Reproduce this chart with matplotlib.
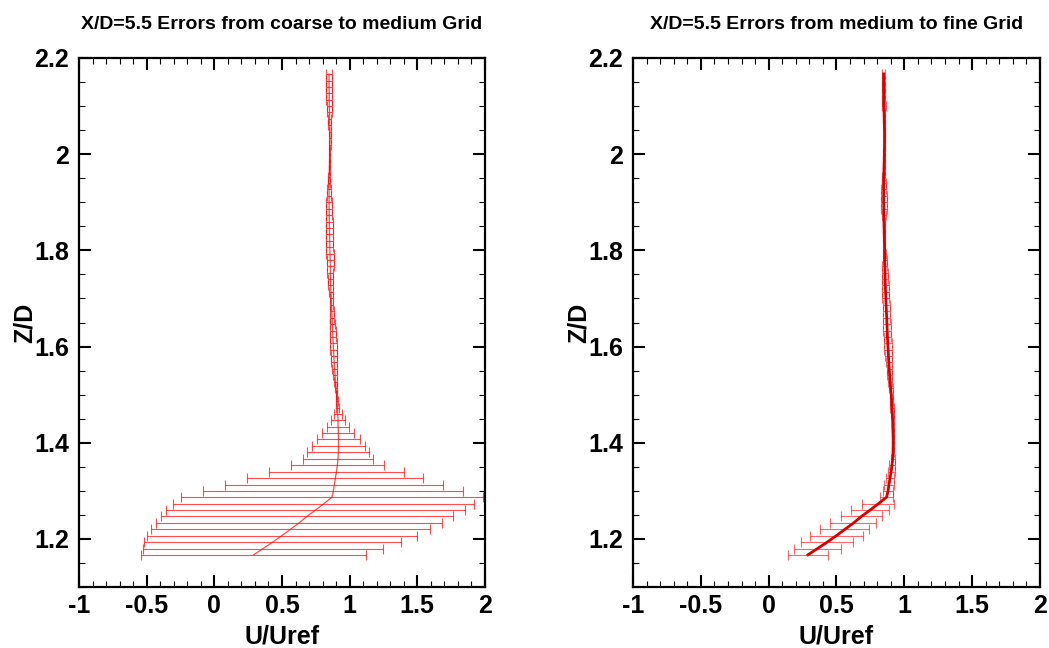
import matplotlib
matplotlib.use("Agg")
import matplotlib.pyplot as plt
from matplotlib.ticker import MultipleLocator

plt.rcParams["font.family"] = ["Liberation Sans", "DejaVu Sans"]
plt.rcParams["font.weight"] = "bold"

# Z/D stations of the profile
z = [1.167, 1.180, 1.193, 1.207, 1.220, 1.233, 1.247, 1.260, 1.273, 1.287,
     1.300, 1.313, 1.327, 1.340, 1.353, 1.367, 1.380, 1.393, 1.407, 1.420,
     1.433, 1.447, 1.460, 1.473, 1.487, 1.500, 1.513, 1.527, 1.540, 1.553,
     1.567, 1.580, 1.593, 1.607, 1.620, 1.633, 1.647, 1.660, 1.673, 1.687,
     1.700, 1.713, 1.727, 1.740, 1.753, 1.767, 1.780, 1.793, 1.807, 1.820,
     1.833, 1.847, 1.860, 1.873, 1.887, 1.900, 1.913, 1.927, 1.940, 1.953,
     1.967, 1.980, 1.993, 2.007, 2.020, 2.033, 2.047, 2.060, 2.073, 2.087,
     2.100, 2.113, 2.127, 2.140, 2.153, 2.167]

# U/Uref profile
u = [0.290, 0.360, 0.430, 0.500, 0.562, 0.625, 0.685, 0.748, 0.808, 0.870,
     0.880, 0.887, 0.895, 0.903, 0.909, 0.914, 0.917, 0.918, 0.918, 0.917,
     0.915, 0.914, 0.912, 0.910, 0.907, 0.904, 0.900, 0.896, 0.892, 0.889,
     0.886, 0.883, 0.881, 0.878, 0.876, 0.874, 0.872, 0.870, 0.868, 0.866,
     0.864, 0.862, 0.860, 0.859, 0.858, 0.857, 0.856, 0.855, 0.854, 0.853,
     0.852, 0.851, 0.850, 0.849, 0.849, 0.848, 0.848, 0.848, 0.848, 0.849,
     0.850, 0.851, 0.852, 0.853, 0.854, 0.854, 0.854, 0.853, 0.852, 0.851,
     0.850, 0.849, 0.849, 0.848, 0.848, 0.848]

# error half-widths, coarse -> medium
err_cm = [0.833, 0.889, 0.946, 1.000, 1.030, 1.057, 1.079, 1.106, 1.111, 1.114,
          0.961, 0.806, 0.650, 0.497, 0.345, 0.261, 0.229, 0.195, 0.158, 0.118,
          0.080, 0.050, 0.030, 0.012, 0.008, 0.006, 0.008, 0.012, 0.016, 0.020,
          0.022, 0.024, 0.025, 0.025, 0.024, 0.022, 0.020, 0.017, 0.014, 0.012,
          0.012, 0.014, 0.017, 0.020, 0.022, 0.024, 0.025, 0.026, 0.026, 0.026,
          0.026, 0.025, 0.025, 0.024, 0.022, 0.020, 0.017, 0.013, 0.009, 0.006,
          0.004, 0.003, 0.003, 0.004, 0.005, 0.006, 0.008, 0.010, 0.013, 0.016,
          0.019, 0.021, 0.022, 0.023, 0.024, 0.024]

# error half-widths, medium -> fine
err_mf = [0.148, 0.170, 0.190, 0.194, 0.180, 0.170, 0.152, 0.138, 0.118, 0.050,
          0.040, 0.035, 0.030, 0.025, 0.020, 0.015, 0.010, 0.008, 0.008, 0.008,
          0.008, 0.008, 0.010, 0.012, 0.012, 0.013, 0.014, 0.016, 0.018, 0.020,
          0.024, 0.026, 0.028, 0.028, 0.028, 0.028, 0.028, 0.028, 0.027, 0.026,
          0.026, 0.025, 0.024, 0.022, 0.020, 0.018, 0.015, 0.010, 0.006, 0.005,
          0.005, 0.006, 0.010, 0.016, 0.020, 0.022, 0.022, 0.020, 0.016, 0.010,
          0.005, 0.004, 0.003, 0.003, 0.003, 0.003, 0.004, 0.006, 0.008, 0.010,
          0.012, 0.012, 0.012, 0.012, 0.012, 0.012]

titles = ["X/D=5.5 Errors from coarse to medium Grid",
          "X/D=5.5 Errors from medium to fine Grid"]

fig = plt.figure(figsize=(10.49, 6.48), dpi=100)
ax1 = fig.add_axes([0.0753, 0.0941, 0.3870, 0.8164])
ax2 = fig.add_axes([0.6034, 0.0941, 0.3880, 0.8164])

# left: thin line, wide error bars
ax1.errorbar(u, z, xerr=err_cm, color="red", lw=0.9, elinewidth=0.8,
             capsize=3.5, capthick=0.8, alpha=0.7)
# right: thick line
ax2.errorbar(u, z, xerr=err_mf, fmt="none", ecolor="red", elinewidth=0.8,
             capsize=3.5, capthick=0.8, alpha=0.6)
ax2.plot(u, z, color="#d80000", lw=2.0)

for ax, t in zip([ax1, ax2], titles):
    ax.set_xlim(-1, 2)
    ax.set_ylim(1.1, 2.2)
    ax.xaxis.set_minor_locator(MultipleLocator(0.1))
    ax.yaxis.set_minor_locator(MultipleLocator(0.05))
    ax.set_xticks([-1, -0.5, 0, 0.5, 1, 1.5, 2])
    ax.set_xticklabels(["-1", "-0.5", "0", "0.5", "1", "1.5", "2"])
    ax.set_yticks([1.2, 1.4, 1.6, 1.8, 2.0, 2.2])
    ax.set_yticklabels(["1.2", "1.4", "1.6", "1.8", "2", "2.2"])
    ax.tick_params(which="both", direction="in", top=True, right=True,
                   labelsize=18)
    ax.tick_params(axis="x", which="major", pad=5)
    ax.tick_params(axis="y", which="major", pad=7)
    ax.tick_params(which="major", length=8.5, width=1.5)
    ax.tick_params(which="minor", length=4.5, width=0.8)
    for s in ax.spines.values():
        s.set_linewidth(1.6)
    ax.set_xlabel("U/Uref", fontsize=18, fontweight="bold", labelpad=5)
    ax.set_ylabel("Z/D", fontsize=18, fontweight="bold", labelpad=-2)
    ax.set_title(t, fontsize=14, fontweight="bold", pad=21)

fig.savefig("out.png", dpi=100)
